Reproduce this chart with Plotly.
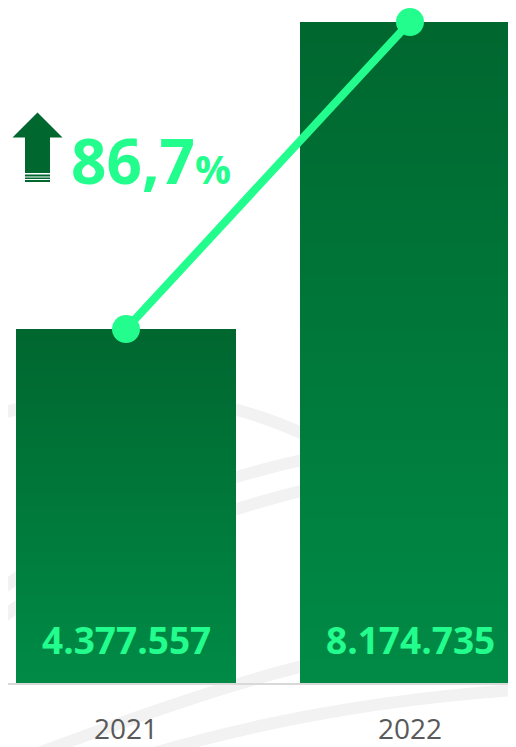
import plotly.graph_objects as go

# ---- data ----
years = ["2021", "2022"]
values = [4377557, 8174735]

# ---- styling constants ----
# the page body has an 8px margin, so the figure is sized to the visible area
OFF = 8
W, H = 516 - OFF, 747 - OFF
M_T, M_B = 22 - OFF, 64
PLOT_H = H - M_T - M_B
BASE_Y = 683  # visible pixel row of zero line

BAR_TOP = (0x00, 0x67, 0x2F)
BAR_BOT = (0x00, 0x8B, 0x46)
LINE_COL = "#22FD8D"
DARK = "#00672F"
ARC = "#F2F2F2"
FONT = "Open Sans"


def fmt_thousands(v):
    return f"{v:,}".replace(",", ".")


def px(x):
    return (x - OFF) / W


def py(y):
    return (BASE_Y - y) / PLOT_H


def mix(t):
    c = [round(BAR_BOT[i] + (BAR_TOP[i] - BAR_BOT[i]) * t) for i in range(3)]
    return "rgb({},{},{})".format(*c)


fig = go.Figure()

# gradient bars: overlapping bars of decreasing height
N = 60
for k in range(N, 0, -1):
    frac = k / N
    fig.add_trace(go.Bar(
        x=years, y=[v * frac for v in values],
        width=0.775,
        marker=dict(color=mix(frac), line=dict(width=0)),
        hoverinfo="skip", showlegend=False,
    ))

# line with markers
fig.add_trace(go.Scatter(
    x=years, y=values, mode="lines+markers",
    line=dict(color=LINE_COL, width=8),
    marker=dict(color=LINE_COL, size=28),
    cliponaxis=False, showlegend=False,
))

annotations = []
for i, v in enumerate(values):
    annotations.append(dict(
        x=i, y=0, xref="x", yref="paper", text="<b>" + fmt_thousands(v) + "</b>",
        showarrow=False, yanchor="middle", yshift=44,
        font=dict(family=FONT, size=37, color=LINE_COL),
    ))

growth = (values[1] / values[0] - 1) * 100
gtxt = f"{growth:.1f}".replace(".", ",")
annotations.append(dict(
    x=px(69), y=py(160), xref="paper", yref="paper", xanchor="left", yanchor="middle",
    text=f"<b>{gtxt}</b><span style='font-size:40px'><b>%</b></span>",
    showarrow=False,
    font=dict(family=FONT, size=62, color=LINE_COL),
))


def qarc(p0, c, p1):
    return "M {},{} Q {},{} {},{}".format(px(p0[0]), py(p0[1]), px(c[0]), py(c[1]), px(p1[0]), py(p1[1]))


shapes = []
arcs = [
    ((-10, 417), (155, 364), (310, 437)),
    ((-10, 598), (112, 500), (320, 456)),
    ((-10, 628), (84, 545), (320, 486)),
    ((20, 760), (231, 680), (330, 660)),
    ((100, 770), (300, 703), (530, 689)),
]
for p0, c, p1 in arcs:
    shapes.append(dict(type="path", path=qarc(p0, c, p1), xref="paper", yref="paper",
                       line=dict(color=ARC, width=12), layer="below"))

# arrow icon
ax = [(12.5, 137.5), (37.5, 112.5), (62.5, 137.5), (50, 137.5), (50, 173), (25, 173), (25, 137.5)]
shapes.append(dict(type="path",
                   path="M " + " L ".join(f"{px(x)},{py(y)}" for x, y in ax) + " Z",
                   xref="paper", yref="paper", fillcolor=DARK, line=dict(width=0), layer="above"))
for y0, y1 in [(174.5, 176.5), (177.5, 179), (180, 182)]:
    shapes.append(dict(type="rect", x0=px(25), x1=px(50), y0=py(y1), y1=py(y0),
                       xref="paper", yref="paper", fillcolor=DARK, line=dict(width=0), layer="above"))

c0, c1 = 126 - OFF, 410 - OFF
fig.update_layout(
    width=W, height=H,
    margin=dict(l=0, r=0, t=M_T, b=M_B, pad=0, autoexpand=False),
    paper_bgcolor="white", plot_bgcolor="rgba(0,0,0,0)",
    barmode="overlay", bargap=0,
    showlegend=False,
    annotations=annotations, shapes=shapes,
    font=dict(family=FONT),
)
fig.update_xaxes(
    type="category", range=[-c0 / (c1 - c0), (W - c0) / (c1 - c0)],
    automargin=False,
    showgrid=False, zeroline=False,
    showline=True, linecolor="#D9D9D9", linewidth=2,
    ticks="", ticklabelstandoff=20,
    tickfont=dict(family=FONT, size=28, color="#595959"),
)
fig.update_yaxes(range=[0, values[1]], visible=False, showgrid=False, zeroline=False,
                 automargin=False)

fig.write_html("out.html")
